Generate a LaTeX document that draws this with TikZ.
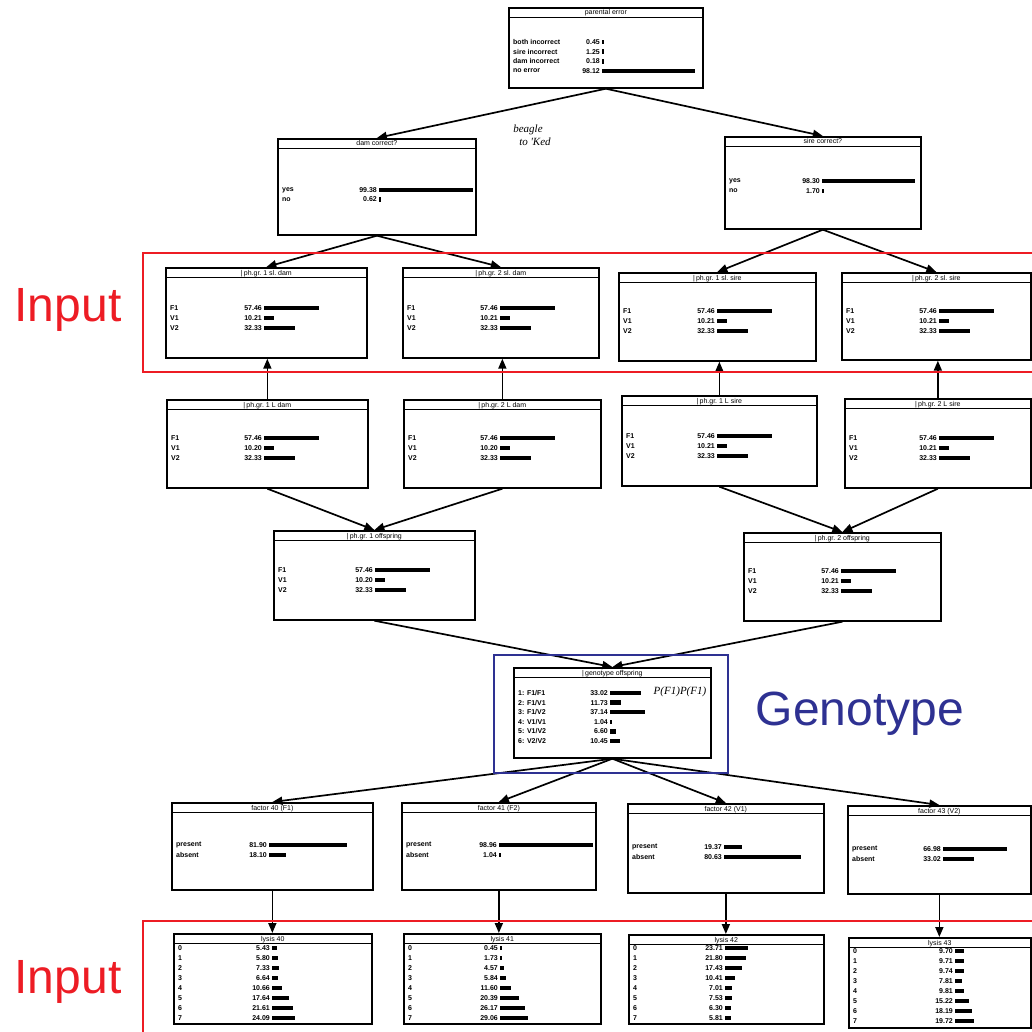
\documentclass[tikz,border=0pt]{standalone}
\usepackage{fontspec}
\setmainfont{Liberation Sans}
\newfontfamily\handfont{Liberation Serif}
\usepackage{tikz}
\usetikzlibrary{arrows.meta, positioning, calc}

\definecolor{inputred}{RGB}{237,28,36}
\definecolor{genoblue}{RGB}{46,49,146}

% panel: name, left, top, width, height, title
\newcommand{\panel}[6]{%
  \node[panel, minimum width=#4pt, minimum height=#5pt] (#1) at (#2,#3) {};
  \draw[thick rule] ([yshift=-10.5pt]#1.north west) -- ([yshift=-10.5pt]#1.north east);
  \node[panel title] at ([yshift=-8pt]#1.north) {#6};
}

% readings: name, first row, value column, row step, label/value list
\newcommand{\readings}[5]{%
  \foreach \lab/\val [count=\k from 0] in {#5} {
    \pgfmathsetmacro{\rowy}{#2+\k*#4}
    \pgfmathsetmacro{\barlen}{max(\val*0.95,1.5)}
    \node[row label] at ($(#1.north west)+(5,\rowy)$) {\lab};
    \node[row value] at ($(#1.north west)+(#3,\rowy)$) {\val};
    \draw[row bar] ($(#1.north west)+(#3+2,\rowy)$) -- ++(\barlen,0);
  }
}

\begin{document}
\begin{tikzpicture}[x=1pt, y=-1pt,
    panel/.style={draw, line width=1.7pt, anchor=north west, inner sep=0pt},
    thick rule/.style={line width=1.4pt},
    panel title/.style={anchor=base, inner sep=0pt, font=\fontsize{7}{7}\selectfont},
    row label/.style={anchor=west, inner sep=0pt, font=\fontsize{7}{7}\selectfont\bfseries},
    row value/.style={anchor=east, inner sep=0pt, font=\fontsize{7}{7}\selectfont\bfseries},
    row bar/.style={line width=4.5pt},
    flow/.style={-{Triangle[length=10pt,width=8pt]}, line width=1.7pt},
    input frame/.style={draw=inputred, line width=2pt},
    geno frame/.style={draw=genoblue, line width=2pt},
    tag/.style={font=\fontsize{48}{48}\selectfont},
    scribble/.style={align=left, inner sep=0pt, font=\handfont\itshape\fontsize{11}{13}\selectfont}]

    \useasboundingbox (0,0) rectangle (1032,1032);
    \fill[white] (0,0) rectangle (1032,1032);
    \clip (0,0) rectangle (1032,1032);

    % Parents
    \panel{perr}{508}{7}{194}{80}{parental error}
    \readings{perr}{35}{92}{9.7}{both incorrect/0.45, sire incorrect/1.25, dam incorrect/0.18, no error/98.12}

    \panel{damok}{277}{138}{198}{96}{dam correct?}
    \readings{damok}{52}{100}{9.5}{yes/99.38, no/0.62}

    \panel{sireok}{724}{136}{196}{92}{sire correct?}
    \readings{sireok}{45}{96}{10}{yes/98.30, no/1.70}

    % Input row
    \panel{sldamA}{165}{267}{201}{90}{|\,ph.gr.\ 1 sl.\ dam}
    \readings{sldamA}{41}{97}{10}{F1/57.46, V1/10.21, V2/32.33}
    \panel{sldamB}{402}{267}{196}{90}{|\,ph.gr.\ 2 sl.\ dam}
    \readings{sldamB}{41}{96}{10}{F1/57.46, V1/10.21, V2/32.33}
    \panel{slsireA}{618}{272}{197}{88}{|\,ph.gr.\ 1 sl.\ sire}
    \readings{slsireA}{39}{97}{10}{F1/57.46, V1/10.21, V2/32.33}
    \panel{slsireB}{841}{272}{189}{87}{|\,ph.gr.\ 2 sl.\ sire}
    \readings{slsireB}{39}{96}{10}{F1/57.46, V1/10.21, V2/32.33}

    % Parent phenotype groups
    \panel{ldamA}{166}{399}{201}{88}{|\,ph.gr.\ 1 L dam}
    \readings{ldamA}{39}{96}{10}{F1/57.46, V1/10.20, V2/32.33}
    \panel{ldamB}{403}{399}{197}{88}{|\,ph.gr.\ 2 L dam}
    \readings{ldamB}{39}{95}{10}{F1/57.46, V1/10.20, V2/32.33}
    \panel{lsireA}{621}{395}{195}{90}{|\,ph.gr.\ 1 L sire}
    \readings{lsireA}{41}{94}{10}{F1/57.46, V1/10.21, V2/32.33}
    \panel{lsireB}{844}{398}{186}{89}{|\,ph.gr.\ 2 L sire}
    \readings{lsireB}{40}{93}{10}{F1/57.46, V1/10.21, V2/32.33}

    % Offspring
    \panel{offA}{273}{530}{201}{89}{|\,ph.gr.\ 1 offspring}
    \readings{offA}{40}{100}{10}{F1/57.46, V1/10.20, V2/32.33}
    \panel{offB}{743}{532}{197}{88}{|\,ph.gr.\ 2 offspring}
    \readings{offB}{39}{96}{10}{F1/57.46, V1/10.21, V2/32.33}

    \panel{geno}{513}{667}{197}{90}{|\,genotype offspring}
    \readings{geno}{26}{95}{9.6}{{1: F1/F1}/33.02, {2: F1/V1}/11.73, {3: F1/V2}/37.14, {4: V1/V1}/1.04, {5: V1/V2}/6.60, {6: V2/V2}/10.45}

    % Factors
    \panel{fac40}{171}{802}{201}{87}{factor 40 (F1)}
    \readings{fac40}{43}{96}{10}{present/81.90, absent/18.10}
    \panel{fac41}{401}{802}{194}{87}{factor 41 (F2)}
    \readings{fac41}{43}{96}{10}{present/98.96, absent/1.04}
    \panel{fac42}{627}{803}{196}{89}{factor 42 (V1)}
    \readings{fac42}{44}{95}{10}{present/19.37, absent/80.63}
    \panel{fac43}{847}{805}{183}{88}{factor 43 (V2)}
    \readings{fac43}{44}{94}{10}{present/66.98, absent/33.02}

    % Lysis
    \panel{lys40}{173}{933}{198}{90}{lysis 40}
    \readings{lys40}{15}{97}{10}{0/5.43, 1/5.80, 2/7.33, 3/6.64, 4/10.66, 5/17.64, 6/21.61, 7/24.09}
    \panel{lys41}{403}{933}{197}{90}{lysis 41}
    \readings{lys41}{15}{95}{10}{0/0.45, 1/1.73, 2/4.57, 3/5.84, 4/11.60, 5/20.39, 6/26.17, 7/29.06}
    \panel{lys42}{628}{934}{195}{89}{lysis 42}
    \readings{lys42}{14}{95}{10}{0/23.71, 1/21.80, 2/17.43, 3/10.41, 4/7.01, 5/7.53, 6/6.30, 7/5.81}
    \panel{lys43}{848}{937}{182}{90}{lysis 43}
    \readings{lys43}{14}{105}{10}{0/9.70, 1/9.71, 2/9.74, 3/7.81, 4/9.81, 5/15.22, 6/18.19, 7/19.72}

    % Arrows
    \draw[flow] (perr.south) -- (damok.north);
    \draw[flow] (perr.south) -- (sireok.north);
    \draw[flow] (damok.south) -- (sldamA.north);
    \draw[flow] (damok.south) -- (sldamB.north);
    \draw[flow] (sireok.south) -- (slsireA.north);
    \draw[flow] (sireok.south) -- (slsireB.north);
    \draw[flow] (ldamA.north) -- (ldamA.north |- sldamA.south);
    \draw[flow] (ldamB.north) -- (ldamB.north |- sldamB.south);
    \draw[flow] (lsireA.north) -- (lsireA.north |- slsireA.south);
    \draw[flow] (lsireB.north) -- (lsireB.north |- slsireB.south);
    \draw[flow] (ldamA.south) -- (offA.north);
    \draw[flow] (ldamB.south) -- (offA.north);
    \draw[flow] (lsireA.south) -- (offB.north);
    \draw[flow] (lsireB.south) -- (offB.north);
    \draw[flow] (offA.south) -- (geno.north);
    \draw[flow] (offB.south) -- (geno.north);
    \draw[flow] (geno.south) -- (fac40.north);
    \draw[flow] (geno.south) -- (fac41.north);
    \draw[flow] (geno.south) -- (fac42.north);
    \draw[flow] (geno.south) -- (fac43.north);
    \draw[flow] (fac40.south) -- (fac40.south |- lys40.north);
    \draw[flow] (fac41.south) -- (fac41.south |- lys41.north);
    \draw[flow] (fac42.south) -- (fac42.south |- lys42.north);
    \draw[flow] (fac43.south) -- (fac43.south |- lys43.north);

    % Handwritten notes
    \node[scribble] (note1) at (532,135) {beagle\\\hspace*{6pt}to 'Ked};
    \node[scribble] (note2) at (680,692) {P(F1)P(F1)};

    % Frames and tags
    \draw[input frame] (143,253) rectangle (1040,372);
    \draw[input frame] (143,921) rectangle (1040,1040);
    \draw[geno frame] (494,655) rectangle (728,773);
    \node[tag, text=inputred] (inputA) at (68,310) {Input};
    \node[tag, text=inputred] (inputB) at (68,982) {Input};
    \node[tag, text=genoblue] (genotag) at (860,714) {Genotype};
\end{tikzpicture}
\end{document}
